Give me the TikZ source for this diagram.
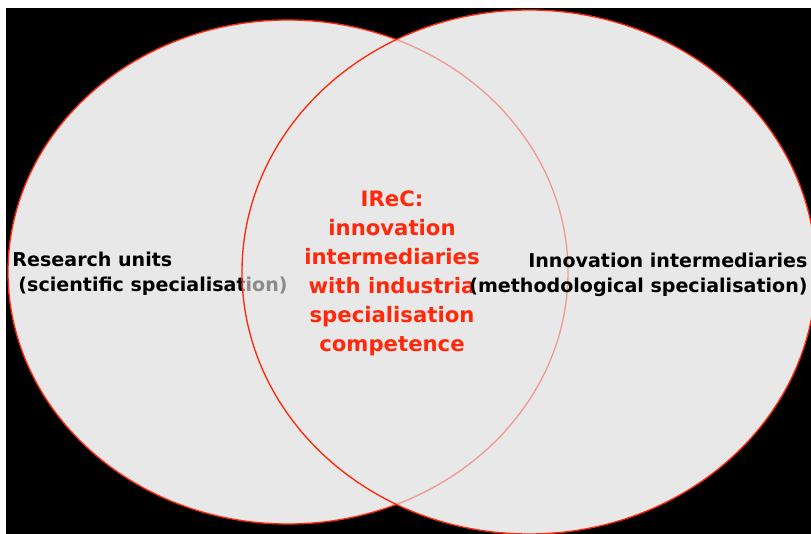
\documentclass[tikz,border=0pt]{standalone}
\usepackage{fontspec}
\setmainfont{DejaVu Sans}

\definecolor{vennred}{RGB}{255,40,10}
\definecolor{venngray}{RGB}{232,232,232}

\tikzset{every picture/.style={line width=0.75pt}}
\tikzset{
  venn edge/.style={draw=vennred, line width=1pt},
  side label/.style={font=\fontsize{14.3}{18.75}\selectfont\bfseries, text=black, inner sep=0pt},
  core label/.style={font=\fontsize{15.9}{21.75}\selectfont\bfseries, text=vennred, inner sep=0pt, align=center}
}

\begin{document}
\begin{tikzpicture}[x=0.75pt,y=0.75pt,yscale=-1,xscale=1]
	\useasboundingbox (0,0) rectangle (811,534);

	%Shape: Rectangle
	\fill [black] (6,8) rectangle (811,534);

	%Shape: Ellipse (right set, plain fill underneath)
	\fill [venngray] (529,272) ellipse [x radius=287, y radius=262];
	%Shape: Ellipse (left set)
	\draw [venn edge, fill=venngray] (288,272) ellipse [x radius=280, y radius=252];

	% Text Node (base = last line)
	\draw (12,292) node [side label, anchor=base west, align=left] (research) {Research units\\\hspace*{4.5pt}(scientific specialisation)};

	%Shape: Ellipse (right set, see-through on top)
	\draw [venn edge, fill=venngray, fill opacity=0.6] (529,272) ellipse [x radius=287, y radius=262];

	% Text Node
	\draw (392,352) node [core label, anchor=base] (irec) {IReC:\\innovation\\intermediaries\\with industria\\specialisation\\competence};
	% Text Node
	\draw (808,293) node [side label, anchor=base east, align=right] (intermed) {Innovation intermediaries\\(methodological specialisation)};

\end{tikzpicture}
\end{document}
